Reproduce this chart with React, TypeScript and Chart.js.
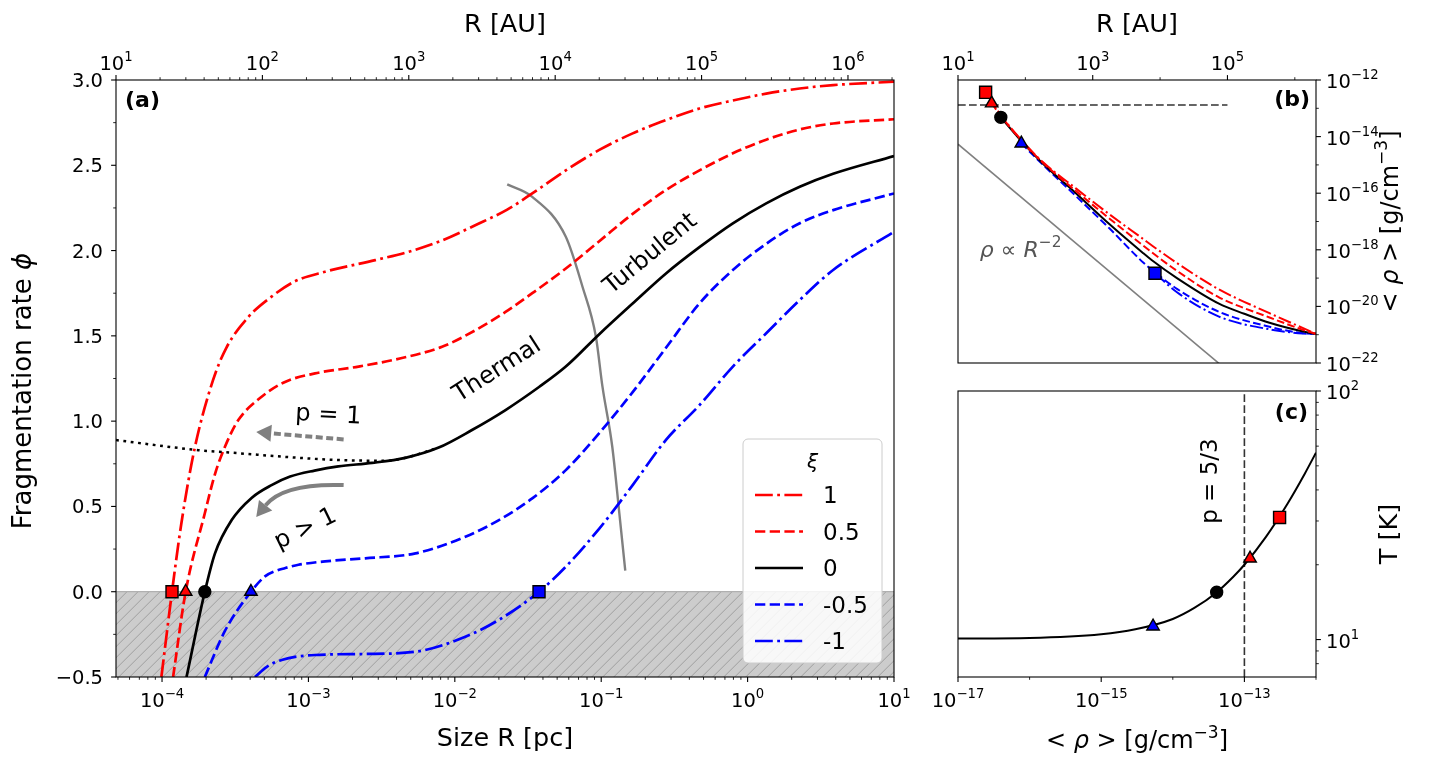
import React, { useEffect, useRef } from "react";
import { Chart, registerables } from "chart.js";

Chart.register(...registerables);

const FONT = "'DejaVu Sans', 'Liberation Sans', sans-serif";
const RED = "#ff0000";
const BLUE = "#0000ff";
const BLACK = "#000000";
const GRAY = "#808080";

// ---------------- Panel (a): fragmentation rate vs size ----------------
const AU_PER_PC = 206265;
const A_X_MIN = 10 / AU_PER_PC;
const A_X_MAX = 10;
const A_Y_MIN = -0.5;
const A_Y_MAX = 3.0;

const XI_LABELS = ["1", "0.5", "0", "-0.5", "-1"];

const A_R_XI_P1 = [9.9e-5, 1.17e-4, 1.355e-4, 1.67e-4, 2.23e-4, 2.75e-4, 3.88e-4, 5.6e-4, 8.1e-4, 1.3e-3, 2.86e-3, 4.84e-3, 8.2e-3, 1.39e-2, 2.28e-2, 3.38e-2, 5.73e-2, 9.7e-2, 0.164, 0.277, 0.469, 0.793, 1.34, 2.27, 3.84, 10];
const A_PHI_XI_P1 = [-0.5, 0, 0.4, 0.84, 1.24, 1.43, 1.61, 1.73, 1.82, 1.876, 1.944, 1.993, 2.06, 2.15, 2.24, 2.335, 2.47, 2.59, 2.687, 2.765, 2.833, 2.88, 2.92, 2.95, 2.97, 2.99];

const A_R_XI_P05 = [1.19e-4, 1.45e-4, 1.96e-4, 2.3e-4, 2.69e-4, 3.32e-4, 4.79e-4, 6.92e-4, 1.11e-3, 2.2e-3, 4.35e-3, 8.18e-3, 1.39e-2, 2.22e-2, 3.38e-2, 5.73e-2, 9.7e-2, 0.164, 0.277, 0.469, 0.793, 1.34, 2.27, 3.84, 10];
const A_PHI_XI_P05 = [-0.5, 0, 0.46, 0.69, 0.85, 1.006, 1.143, 1.23, 1.28, 1.32, 1.37, 1.436, 1.534, 1.64, 1.75, 1.895, 2.055, 2.215, 2.355, 2.47, 2.57, 2.65, 2.71, 2.745, 2.77];

const A_R_XI_0 = [1.47e-4, 1.96e-4, 2.3e-4, 2.99e-4, 4.09e-4, 5.6e-4, 7.5e-4, 1.1e-3, 1.6e-3, 2.72e-3, 4.59e-3, 7.76e-3, 1.31e-2, 2.22e-2, 3.76e-2, 5.73e-2, 9.7e-2, 0.164, 0.277, 0.469, 0.793, 1.34, 2.27, 3.84, 10];
const A_PHI_XI_0 = [-0.5, 0, 0.225, 0.42, 0.55, 0.625, 0.675, 0.71, 0.735, 0.755, 0.785, 0.845, 0.948, 1.065, 1.2, 1.32, 1.51, 1.69, 1.866, 2.02, 2.16, 2.277, 2.374, 2.45, 2.554];

const A_R_XI_M05 = [1.96e-4, 2.69e-4, 4.05e-4, 5.05e-4, 5.9e-4, 6.9e-4, 8.55e-4, 1.3e-3, 2.44e-3, 5.38e-3, 1.18e-2, 2.0e-2, 3.38e-2, 5.73e-2, 9.7e-2, 0.164, 0.277, 0.469, 0.793, 1.34, 2.27, 3.84, 10];
const A_PHI_XI_M05 = [-0.5, -0.23, 0, 0.09, 0.12, 0.138, 0.158, 0.178, 0.196, 0.225, 0.322, 0.42, 0.547, 0.713, 0.93, 1.17, 1.43, 1.69, 1.886, 2.04, 2.16, 2.237, 2.335];

const A_R_XI_M1 = [4.31e-4, 5.2e-4, 6.56e-4, 1.11e-3, 2.44e-3, 5.38e-3, 1.18e-2, 2.0e-2, 3.76e-2, 5.73e-2, 9.7e-2, 0.164, 0.277, 0.469, 0.793, 1.34, 2.27, 3.84, 10];
const A_PHI_XI_M1 = [-0.5, -0.44, -0.4, -0.371, -0.365, -0.352, -0.264, -0.165, 0, 0.147, 0.37, 0.625, 0.89, 1.094, 1.32, 1.515, 1.71, 1.886, 2.11];

const A_R_DOTTED = [4.85e-5, 1.77e-4, 3.32e-4, 8.55e-4, 1.6e-3, 3.5e-3, 4.59e-3, 7.76e-3];
const A_PHI_DOTTED = [0.889, 0.83, 0.812, 0.785, 0.772, 0.768, 0.785, 0.845];

const A_R_BOUNDARY = [2.28e-2, 3.38e-2, 5.73e-2, 7.45e-2, 9.2e-2, 0.102, 0.119, 0.133, 0.146];
const A_PHI_BOUNDARY = [2.388, 2.315, 2.081, 1.788, 1.495, 1.202, 0.85, 0.46, 0.123];

const A_MARK_R = [1.17e-4, 1.45e-4, 1.96e-4, 4.05e-4, 3.76e-2];
const A_MARK_PHI = [0, 0, 0, 0, 0];
const A_MARK_STYLE = ["rect", "triangle", "circle", "triangle", "rect"];
const A_MARK_COLOR = [RED, RED, BLACK, BLUE, BLUE];

const A_SHADE = [-0.5, 0];

const A_X_TICKS = [1e-4, 1e-3, 1e-2, 1e-1, 1, 10];
const A_XTOP_TICKS = [10, 100, 1e3, 1e4, 1e5, 1e6];
const A_Y_TICKS = [-0.5, 0, 0.5, 1, 1.5, 2, 2.5, 3];
const A_Y_MINOR = [-0.25, 0.25, 0.75, 1.25, 1.75, 2.25, 2.75];

// ---------------- Panel (b): mean density vs size (AU) ----------------
const B_X_MIN = 10;
const B_X_MAX = 10 * AU_PER_PC;
const B_Y_MIN = 1e-22;
const B_Y_MAX = 1e-12;

const B_R_XI_P1 = [25.7, 43.6, 87.1, 178, 562, 1780, 5620, 7480, 17800, 74800, 421000, 1.33e6, 2.06e6];
const B_RHO_XI_P1 = [3.67e-13, 5.62e-14, 7.59e-15, 1.32e-15, 1.48e-16, 1.78e-17, 2.4e-18, 1.45e-18, 3.4e-19, 4.0e-20, 5.75e-21, 1.7e-21, 1.07e-21];

const B_R_XI_P05 = [31.6, 43.6, 87.1, 178, 562, 1780, 5620, 7480, 17800, 74800, 421000, 1.33e6, 2.06e6];
const B_RHO_XI_P05 = [1.51e-13, 5.25e-14, 7.24e-15, 1.26e-15, 1.2e-16, 1.26e-17, 1.41e-18, 8.3e-19, 1.8e-19, 2.1e-20, 4.07e-21, 1.48e-21, 1.07e-21];

const B_R_XI_0 = [43.2, 87.1, 178, 562, 1780, 5620, 7480, 17800, 74800, 178000, 421000, 1.33e6, 2.06e6];
const B_RHO_XI_0 = [4.79e-14, 6.92e-15, 1.17e-15, 1.0e-16, 7.94e-18, 7.59e-19, 4.37e-19, 1.0e-19, 1.25e-20, 5.5e-21, 2.63e-21, 1.29e-21, 1.07e-21];

const B_R_XI_M05 = [87.1, 178, 562, 1780, 5620, 7480, 17800, 74800, 421000, 1.33e6, 2.06e6];
const B_RHO_XI_M05 = [5.75e-15, 1.07e-15, 7.94e-17, 5.62e-18, 3.55e-19, 2.0e-19, 4.17e-20, 6.46e-21, 1.91e-21, 1.12e-21, 1.07e-21];

const B_R_XI_M1 = [8400, 17800, 74800, 421000, 1.33e6, 2.06e6];
const B_RHO_XI_M1 = [1.48e-19, 3.16e-20, 4.37e-21, 1.55e-21, 1.1e-21, 1.07e-21];

const B_R_SLOPE = [10, 1e5];
const B_RHO_SLOPE = [5.4e-15, 5.4e-23];

const B_R_HLINE = [10, 1e5];
const B_RHO_HLINE = [1.31e-13, 1.31e-13];

const B_MARK_R = [25.7, 31.6, 43.2, 87.1, 8400];
const B_MARK_RHO = [3.67e-13, 1.51e-13, 4.79e-14, 5.75e-15, 1.48e-19];
const B_MARK_STYLE = ["rect", "triangle", "circle", "triangle", "rect"];
const B_MARK_COLOR = [RED, RED, BLACK, BLUE, BLUE];

const B_X_TICKS = [10, 1e3, 1e5];
const B_X_MINOR = [100, 1e4, 1e6];
const B_Y_TICKS = [1e-12, 1e-14, 1e-16, 1e-18, 1e-20, 1e-22];
const B_Y_MINOR = [1e-13, 1e-15, 1e-17, 1e-19, 1e-21];

// ---------------- Panel (c): temperature vs density ----------------
const C_X_MIN = 1e-17;
const C_X_MAX = 1e-12;
const C_Y_MIN = 7.07;
const C_Y_MAX = 100;

const C_RHO = [1e-17, 1e-16, 1e-15, 3e-15, 1e-14, 2e-14, 4e-14, 7e-14, 1e-13, 2e-13, 4e-13, 7e-13, 1e-12];
const C_T = [10.1, 10.15, 10.5, 11.0, 12.1, 13.4, 15.4, 17.9, 20.0, 25.9, 35.2, 46.6, 56.5];

const C_VLINE_RHO = [1e-13, 1e-13];
const C_VLINE_T = [7.07, 100];

const C_MARK_RHO = [5.3e-15, 4.1e-14, 1.2e-13, 3.1e-13];
const C_MARK_T = [11.3, 15.5, 21.2, 31.0];
const C_MARK_STYLE = ["triangle", "circle", "triangle", "rect"];
const C_MARK_COLOR = [BLUE, BLACK, RED, RED];

const C_X_TICKS = [1e-17, 1e-15, 1e-13];
const C_X_MINOR = [1e-16, 1e-14, 1e-12];
const C_Y_TICKS = [10, 100];
const C_Y_MINOR = [8, 9, 20, 30, 40, 50, 60, 70, 80, 90];

// ---------------- helpers ----------------
type Part = { t: string; s: number; it?: boolean; b?: boolean; dy?: number };

const TICK_FS = 19.5;
const SUP_FS = 13.2;
const TITLE_FS = 25.5;
const RHO_FS = 24;

function fontOf(p: Part) {
  return `${p.it ? "italic " : ""}${p.b ? "bold " : ""}${p.s}px ${FONT}`;
}

function drawRich(
  ctx: CanvasRenderingContext2D,
  parts: Part[],
  x: number,
  y: number,
  o: { align?: "left" | "center" | "right"; rot?: number; color?: string; mid?: boolean } = {}
) {
  const align = o.align || "center";
  ctx.save();
  ctx.translate(x, y);
  if (o.rot) ctx.rotate(o.rot);
  ctx.fillStyle = o.color || "#000";
  ctx.textBaseline = "alphabetic";
  ctx.textAlign = "left";
  const ws = parts.map((p) => {
    ctx.font = fontOf(p);
    return ctx.measureText(p.t).width;
  });
  const total = ws.reduce((a, b) => a + b, 0);
  let cx = align === "center" ? -total / 2 : align === "right" ? -total : 0;
  const base = o.mid ? 0.36 * parts[0].s : 0;
  parts.forEach((p, i) => {
    ctx.font = fontOf(p);
    ctx.fillText(p.t, cx, base + (p.dy || 0));
    cx += ws[i];
  });
  ctx.restore();
}

function powLabel(v: number): Part[] {
  const e = Math.round(Math.log10(v));
  return [
    { t: "10", s: TICK_FS },
    { t: (e < 0 ? "\u2212" : "") + Math.abs(e), s: SUP_FS, dy: -9 },
  ];
}

function linLabel(v: number): Part[] {
  return [{ t: (v < 0 ? "\u2212" : "") + Math.abs(v).toFixed(1), s: TICK_FS }];
}

function decadeMinors(min: number, max: number) {
  const out: number[] = [];
  for (let e = Math.floor(Math.log10(min)); e <= Math.ceil(Math.log10(max)); e++) {
    for (let k = 2; k <= 9; k++) {
      const v = k * Math.pow(10, e);
      if (v >= min * (1 - 1e-9) && v <= max * (1 + 1e-9)) out.push(v);
    }
  }
  return out;
}

type Side = "left" | "right" | "top" | "bottom";

function drawAxis(ctx: CanvasRenderingContext2D, ca: any, scale: any, side: Side, majors: number[], minors: number[], label: (v: number) => Part[]) {
  ctx.save();
  ctx.strokeStyle = "#000";
  const mark = (v: number, len: number, lw: number) => {
    const p = scale.getPixelForValue(v);
    ctx.lineWidth = lw;
    ctx.beginPath();
    if (side === "bottom") { ctx.moveTo(p, ca.bottom); ctx.lineTo(p, ca.bottom + len); }
    else if (side === "top") { ctx.moveTo(p, ca.top); ctx.lineTo(p, ca.top - len); }
    else if (side === "left") { ctx.moveTo(ca.left, p); ctx.lineTo(ca.left - len, p); }
    else { ctx.moveTo(ca.right, p); ctx.lineTo(ca.right + len, p); }
    ctx.stroke();
  };
  minors.forEach((v) => mark(v, 2.8, 0.85));
  majors.forEach((v) => mark(v, 4.9, 1.1));
  ctx.restore();
  majors.forEach((v) => {
    const p = scale.getPixelForValue(v);
    const parts = label(v);
    if (side === "bottom") drawRich(ctx, parts, p, ca.bottom + 30, { align: "center" });
    else if (side === "top") drawRich(ctx, parts, p, ca.top - 10, { align: "center" });
    else if (side === "left") drawRich(ctx, parts, ca.left - 13, p + 7, { align: "right" });
    else drawRich(ctx, parts, ca.right + 10, p + 8, { align: "left" });
  });
}

function drawFrame(ctx: CanvasRenderingContext2D, ca: any) {
  ctx.save();
  ctx.strokeStyle = "#000";
  ctx.lineWidth = 1.1;
  ctx.strokeRect(ca.left, ca.top, ca.right - ca.left, ca.bottom - ca.top);
  ctx.restore();
}

function arrowHead(ctx: CanvasRenderingContext2D, tx: number, ty: number, fx: number, fy: number, len: number, hw: number) {
  const dx = tx - fx, dy = ty - fy;
  const d = Math.hypot(dx, dy) || 1;
  const ux = dx / d, uy = dy / d;
  const bx = tx - ux * len, by = ty - uy * len;
  ctx.beginPath();
  ctx.moveTo(tx, ty);
  ctx.lineTo(bx - uy * hw, by + ux * hw);
  ctx.lineTo(bx + uy * hw, by - ux * hw);
  ctx.closePath();
  ctx.fill();
  return [bx, by];
}

const DEG = Math.PI / 180;

function lineDS(xs: number[], ys: number[], color: string, width: number, dash: number[] = [], smooth = true, order = 2) {
  const ds: any = {
    type: "line",
    data: xs.map((x, i) => ({ x, y: ys[i] })),
    borderColor: color,
    backgroundColor: color,
    borderWidth: width,
    borderDash: dash,
    borderCapStyle: "butt",
    borderJoinStyle: "round",
    pointRadius: 0,
    pointHoverRadius: 0,
    fill: false,
    clip: 0,
    order,
  };
  if (smooth) ds.cubicInterpolationMode = "monotone";
  return ds;
}

function markerDS(xs: number[], ys: number[], styles: string[], colors: string[]) {
  return {
    type: "line",
    data: xs.map((x, i) => ({ x, y: ys[i] })),
    showLine: false,
    pointStyle: styles,
    pointRadius: styles.map((s) => (s === "rect" ? 8.5 : s === "triangle" ? 7.2 : 6)),
    pointHoverRadius: 0,
    pointBackgroundColor: colors,
    pointBorderColor: "#000",
    pointBorderWidth: 1.4,
    clip: false,
    order: 0,
  };
}

function axisOpts(type: string, position: string, min: number, max: number, size: number) {
  const horizontal = position === "top" || position === "bottom";
  return {
    type,
    position,
    min,
    max,
    display: true,
    ticks: { display: false },
    grid: { display: false, drawTicks: false },
    border: { display: false },
    title: { display: false },
    afterFit: (s: any) => {
      if (horizontal) s.height = size;
      else s.width = size;
      s.paddingLeft = 0;
      s.paddingRight = 0;
      s.paddingTop = 0;
      s.paddingBottom = 0;
    },
  };
}

function baseOptions(padding: any, scales: any) {
  return {
    responsive: false,
    maintainAspectRatio: false,
    animation: false,
    events: [],
    layout: { padding },
    plugins: { legend: { display: false }, tooltip: { enabled: false }, title: { display: false } },
    scales,
  };
}

// dash patterns
const DASH_A = [10.3, 4.4];
const DASHDOT_A = [17.8, 4.4, 2.8, 4.4];
const DOT_A = [2.8, 4.6];
const DASH_B = [7.7, 3.3];
const DASHDOT_B = [13.3, 3.3, 2.1, 3.3];

// ---------------- panel builders ----------------
function buildA(canvas: HTMLCanvasElement) {
  const LW = 2.7;
  const series = [
    { r: A_R_XI_P1, p: A_PHI_XI_P1, c: RED, d: DASHDOT_A },
    { r: A_R_XI_P05, p: A_PHI_XI_P05, c: RED, d: DASH_A },
    { r: A_R_XI_0, p: A_PHI_XI_0, c: BLACK, d: [] as number[] },
    { r: A_R_XI_M05, p: A_PHI_XI_M05, c: BLUE, d: DASH_A },
    { r: A_R_XI_M1, p: A_PHI_XI_M1, c: BLUE, d: DASHDOT_A },
  ];
  const datasets: any[] = [
    markerDS(A_MARK_R, A_MARK_PHI, A_MARK_STYLE, A_MARK_COLOR),
    ...series.map((s) => lineDS(s.r, s.p, s.c, LW, s.d)),
    lineDS(A_R_DOTTED, A_PHI_DOTTED, BLACK, 2.5, DOT_A, true, 1),
    lineDS(A_R_BOUNDARY, A_PHI_BOUNDARY, GRAY, 2.4, [], true, 3),
  ];

  const plugin = {
    id: "panelA",
    beforeDatasetsDraw(chart: any) {
      const { ctx, chartArea: ca, scales } = chart;
      const y0 = scales.y.getPixelForValue(A_SHADE[1]);
      const y1 = scales.y.getPixelForValue(A_SHADE[0]);
      const w = ca.right - ca.left;
      const h = y1 - y0;
      ctx.save();
      ctx.beginPath();
      ctx.rect(ca.left, y0, w, h);
      ctx.clip();
      ctx.fillStyle = "#cccccc";
      ctx.fillRect(ca.left, y0, w, h);
      ctx.strokeStyle = "#9a9a9a";
      ctx.lineWidth = 0.9;
      for (let k = -h; k < w + h; k += 11) {
        ctx.beginPath();
        ctx.moveTo(ca.left + k, y1);
        ctx.lineTo(ca.left + k + h, y0);
        ctx.stroke();
      }
      ctx.restore();
      ctx.save();
      ctx.strokeStyle = "#b0b0b0";
      ctx.lineWidth = 1.3;
      ctx.beginPath();
      ctx.moveTo(ca.left, y0);
      ctx.lineTo(ca.right, y0);
      ctx.stroke();
      ctx.restore();
    },
    afterDatasetsDraw(chart: any) {
      const { ctx, chartArea: ca, scales } = chart;
      const X = (v: number) => scales.x.getPixelForValue(v);
      const Y = (v: number) => scales.y.getPixelForValue(v);
      // arrows
      ctx.save();
      ctx.strokeStyle = GRAY;
      ctx.fillStyle = GRAY;
      ctx.lineWidth = 4;
      let sx = X(1.74e-3), sy = Y(0.893), tx = X(4.4e-4), ty = Y(0.936);
      let [bx, by] = arrowHead(ctx, tx, ty, sx, sy, 15, 8.5);
      ctx.setLineDash([7, 3.5]);
      ctx.beginPath();
      ctx.moveTo(sx, sy);
      ctx.lineTo(bx, by);
      ctx.stroke();
      ctx.setLineDash([]);
      sx = X(1.74e-3); sy = Y(0.625);
      const cx = X(6.75e-4), cy = Y(0.637);
      tx = X(4.4e-4); ty = Y(0.438);
      [bx, by] = arrowHead(ctx, tx, ty, cx, cy, 15, 8.5);
      ctx.beginPath();
      ctx.moveTo(sx, sy);
      ctx.quadraticCurveTo(cx, cy, bx, by);
      ctx.stroke();
      ctx.restore();
      // annotations
      drawRich(ctx, [{ t: "Thermal", s: 24 }], X(1.91e-2), Y(1.31), { rot: -32.6 * DEG, mid: true });
      drawRich(ctx, [{ t: "Turbulent", s: 24 }], X(0.213), Y(1.99), { rot: -39.5 * DEG, mid: true });
      drawRich(ctx, [{ t: "p = 1", s: 24 }], X(1.37e-3), Y(1.047), { rot: 3 * DEG, mid: true });
      drawRich(ctx, [{ t: "p > 1", s: 24 }], X(9.4e-4), Y(0.379), { rot: -26 * DEG, mid: true });
      drawRich(ctx, [{ t: "(a)", s: 22, b: true }], ca.left + 9, ca.top + 27, { align: "left" });
      // legend
      const bw = 139, bh = 224;
      const lx = ca.right - 12 - bw, ly = ca.bottom - 14 - bh;
      ctx.save();
      ctx.beginPath();
      ctx.roundRect(lx, ly, bw, bh, 5);
      ctx.fillStyle = "rgba(255,255,255,0.85)";
      ctx.fill();
      ctx.strokeStyle = "#cccccc";
      ctx.lineWidth = 1;
      ctx.stroke();
      ctx.restore();
      drawRich(ctx, [{ t: "\u03be", s: 20, it: true }], lx + bw / 2, ly + 29, { align: "center" });
      series.forEach((s, i) => {
        const yy = ly + 56 + i * 36.5;
        ctx.save();
        ctx.strokeStyle = s.c;
        ctx.lineWidth = LW;
        ctx.setLineDash(s.d);
        ctx.beginPath();
        ctx.moveTo(lx + 12, yy);
        ctx.lineTo(lx + 60, yy);
        ctx.stroke();
        ctx.restore();
        drawRich(ctx, [{ t: XI_LABELS[i], s: 23 }], lx + 80, yy, { align: "left", mid: true });
      });
    },
    afterDraw(chart: any) {
      const { ctx, chartArea: ca, scales } = chart;
      drawFrame(ctx, ca);
      drawAxis(ctx, ca, scales.x, "bottom", A_X_TICKS, decadeMinors(A_X_MIN, A_X_MAX), powLabel);
      drawAxis(ctx, ca, scales.x2, "top", A_XTOP_TICKS, decadeMinors(10, A_X_MAX * AU_PER_PC), powLabel);
      drawAxis(ctx, ca, scales.y, "left", A_Y_TICKS, A_Y_MINOR, linLabel);
      const midX = (ca.left + ca.right) / 2;
      drawRich(ctx, [{ t: "Size R [pc]", s: TITLE_FS }], midX, ca.bottom + 69, { align: "center" });
      drawRich(ctx, [{ t: "R [AU]", s: TITLE_FS }], midX, 32, { align: "center" });
      drawRich(ctx, [{ t: "Fragmentation rate ", s: 26 }, { t: "\u03d5", s: 26, it: true }], 22, 391, { rot: -90 * DEG, mid: true });
    },
  };

  return new Chart(canvas, {
    type: "line",
    data: { datasets },
    options: baseOptions({ left: 0, right: 26, top: 0, bottom: 0 }, {
      x: axisOpts("logarithmic", "bottom", A_X_MIN, A_X_MAX, 91),
      x2: axisOpts("logarithmic", "top", 10, A_X_MAX * AU_PER_PC, 80),
      y: axisOpts("linear", "left", A_Y_MIN, A_Y_MAX, 116),
    }),
    plugins: [plugin],
  } as any);
}

function rhoTitle(): Part[] {
  return [
    { t: "< ", s: RHO_FS },
    { t: "\u03c1", s: RHO_FS, it: true },
    { t: " > [g/cm", s: RHO_FS },
    { t: "\u22123", s: 17, dy: -10.5 },
    { t: "]", s: RHO_FS },
  ];
}

function buildB(canvas: HTMLCanvasElement) {
  const LW = 2.0;
  const datasets: any[] = [
    markerDS(B_MARK_R, B_MARK_RHO, B_MARK_STYLE, B_MARK_COLOR),
    lineDS(B_R_XI_P1, B_RHO_XI_P1, RED, LW, DASHDOT_B),
    lineDS(B_R_XI_P05, B_RHO_XI_P05, RED, LW, DASH_B),
    lineDS(B_R_XI_0, B_RHO_XI_0, BLACK, LW, []),
    lineDS(B_R_XI_M05, B_RHO_XI_M05, BLUE, LW, DASH_B),
    lineDS(B_R_XI_M1, B_RHO_XI_M1, BLUE, LW, DASHDOT_B),
    lineDS(B_R_SLOPE, B_RHO_SLOPE, GRAY, 1.6, [], false, 3),
    lineDS(B_R_HLINE, B_RHO_HLINE, "#333333", 1.6, DASH_B, false, 3),
  ];
  const plugin = {
    id: "panelB",
    afterDatasetsDraw(chart: any) {
      const { ctx, chartArea: ca, scales } = chart;
      const X = (v: number) => scales.x.getPixelForValue(v);
      const Y = (v: number) => scales.y.getPixelForValue(v);
      drawRich(ctx, [
        { t: "\u03c1", s: 22, it: true },
        { t: " \u221d ", s: 22 },
        { t: "R", s: 22, it: true },
        { t: "\u22122", s: 15.4, dy: -10 },
      ], X(21.1), Y(5.6e-19), { align: "left", color: "#555555" });
      drawRich(ctx, [{ t: "(b)", s: 22, b: true }], ca.right - 6, ca.top + 26, { align: "right" });
    },
    afterDraw(chart: any) {
      const { ctx, chartArea: ca, scales } = chart;
      drawFrame(ctx, ca);
      drawAxis(ctx, ca, scales.x, "top", B_X_TICKS, B_X_MINOR, powLabel);
      drawAxis(ctx, ca, scales.y, "right", B_Y_TICKS, B_Y_MINOR, powLabel);
      drawRich(ctx, [{ t: "R [AU]", s: TITLE_FS }], (ca.left + ca.right) / 2, 32, { align: "center" });
      drawRich(ctx, rhoTitle(), ca.right + 73, (ca.top + ca.bottom) / 2, { rot: -90 * DEG, mid: true });
    },
  };
  return new Chart(canvas, {
    type: "line",
    data: { datasets },
    options: baseOptions({ left: 58, right: 0, top: 0, bottom: 12 }, {
      x: axisOpts("logarithmic", "top", B_X_MIN, B_X_MAX, 80),
      y: axisOpts("logarithmic", "right", B_Y_MIN, B_Y_MAX, 127),
    }),
    plugins: [plugin],
  } as any);
}

function buildC(canvas: HTMLCanvasElement) {
  const datasets: any[] = [
    markerDS(C_MARK_RHO, C_MARK_T, C_MARK_STYLE, C_MARK_COLOR),
    lineDS(C_RHO, C_T, BLACK, 2.0, []),
    lineDS(C_VLINE_RHO, C_VLINE_T, "#333333", 1.6, DASH_B, false, 3),
  ];
  const plugin = {
    id: "panelC",
    afterDatasetsDraw(chart: any) {
      const { ctx, chartArea: ca, scales } = chart;
      const X = (v: number) => scales.x.getPixelForValue(v);
      const Y = (v: number) => scales.y.getPixelForValue(v);
      drawRich(ctx, [{ t: "p = 5/3", s: 23 }], X(3.2e-14), Y(43.4), { rot: -90 * DEG, mid: true });
      drawRich(ctx, [{ t: "(c)", s: 22, b: true }], ca.right - 8, ca.top + 28, { align: "right" });
    },
    afterDraw(chart: any) {
      const { ctx, chartArea: ca, scales } = chart;
      drawFrame(ctx, ca);
      drawAxis(ctx, ca, scales.x, "bottom", C_X_TICKS, C_X_MINOR, powLabel);
      drawAxis(ctx, ca, scales.y, "right", C_Y_TICKS, C_Y_MINOR, powLabel);
      drawRich(ctx, rhoTitle(), (ca.left + ca.right) / 2, ca.bottom + 71, { align: "center" });
      drawRich(ctx, [{ t: "T [K]", s: TITLE_FS }], ca.right + 72, (ca.top + ca.bottom) / 2, { rot: -90 * DEG, mid: true });
    },
  };
  return new Chart(canvas, {
    type: "line",
    data: { datasets },
    options: baseOptions({ left: 58, right: 0, top: 16, bottom: 0 }, {
      x: axisOpts("logarithmic", "bottom", C_X_MIN, C_X_MAX, 91),
      y: axisOpts("logarithmic", "right", C_Y_MIN, C_Y_MAX, 127),
    }),
    plugins: [plugin],
  } as any);
}

export default function App() {
  const refA = useRef<HTMLCanvasElement>(null);
  const refB = useRef<HTMLCanvasElement>(null);
  const refC = useRef<HTMLCanvasElement>(null);

  useEffect(() => {
    const charts = [buildA(refA.current!), buildB(refB.current!), buildC(refC.current!)];
    return () => charts.forEach((c) => c.destroy());
  }, []);

  const abs = (l: number, t: number, w: number, h: number): React.CSSProperties => ({
    position: "absolute", left: l, top: t, width: w, height: h,
  });

  return (
    <div style={{ position: "fixed", left: 0, top: 0, width: 1443, height: 768, background: "#ffffff", overflow: "hidden" }}>
      <canvas ref={refA} width={920} height={768} style={abs(0, 0, 920, 768)} />
      <canvas ref={refB} width={543} height={375} style={abs(900, 0, 543, 375)} />
      <canvas ref={refC} width={543} height={393} style={abs(900, 375, 543, 393)} />
    </div>
  );
}
